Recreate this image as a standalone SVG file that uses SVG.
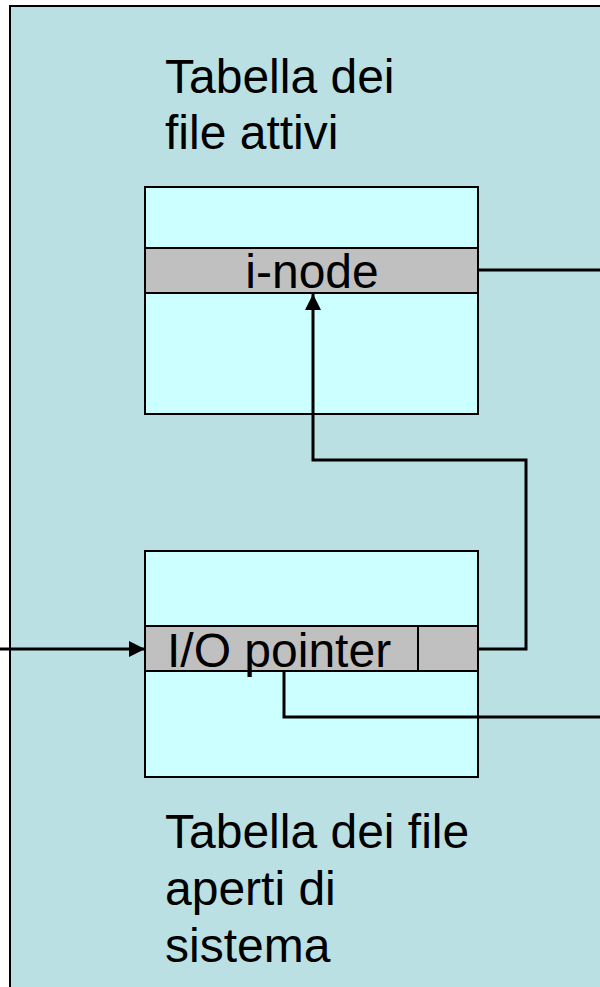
<svg xmlns="http://www.w3.org/2000/svg" width="600" height="987" viewBox="0 0 600 987">
<style>
.lbl{font-family:"Liberation Sans",Arial,sans-serif;font-size:48px;fill:#000}
.box{fill:#ccffff;stroke:#000;stroke-width:2}
.band{fill:#c0c0c0;stroke:#000;stroke-width:2}
.conn{fill:none;stroke:#000;stroke-width:3}
</style>
<defs>
<marker id="ah" markerWidth="17" markerHeight="16" refX="16" refY="8" orient="auto" markerUnits="userSpaceOnUse">
<path d="M0,0 L16,8 L0,16 Z" fill="#000"/>
</marker>
</defs>
<rect x="10" y="6" width="620" height="1010" fill="#bae0e3" stroke="#000" stroke-width="2"/>
<g id="label-attivi">
<text class="lbl" x="165" y="93">Tabella dei</text>
<text class="lbl" x="165" y="149">file attivi</text>
</g>
<g id="table-attivi">
<rect class="box" x="145" y="187" width="333" height="227"/>
<rect class="band" x="145" y="248" width="333" height="45"/>
<text class="lbl" x="312" y="288" text-anchor="middle">i-node</text>
</g>
<g id="table-aperti">
<rect class="box" x="145" y="551" width="333" height="226"/>
<rect class="band" x="145" y="626" width="333" height="45"/>
<line x1="418" y1="626" x2="418" y2="671" stroke="#000" stroke-width="2"/>
<text class="lbl" x="167" y="667">I/O pointer</text>
</g>
<g id="label-aperti">
<text class="lbl" x="165" y="848">Tabella dei file</text>
<text class="lbl" x="165" y="905">aperti di</text>
<text class="lbl" x="165" y="962">sistema</text>
</g>
<g id="connectors">
<line class="conn" x1="478" y1="270" x2="600" y2="270"/>
<line class="conn" x1="0" y1="649" x2="145" y2="649" marker-end="url(#ah)"/>
<polyline class="conn" points="478,649 526,649 526,460 313,460 313,294" marker-end="url(#ah)"/>
<polyline class="conn" points="284,671 284,717 600,717"/>
</g>
</svg>
